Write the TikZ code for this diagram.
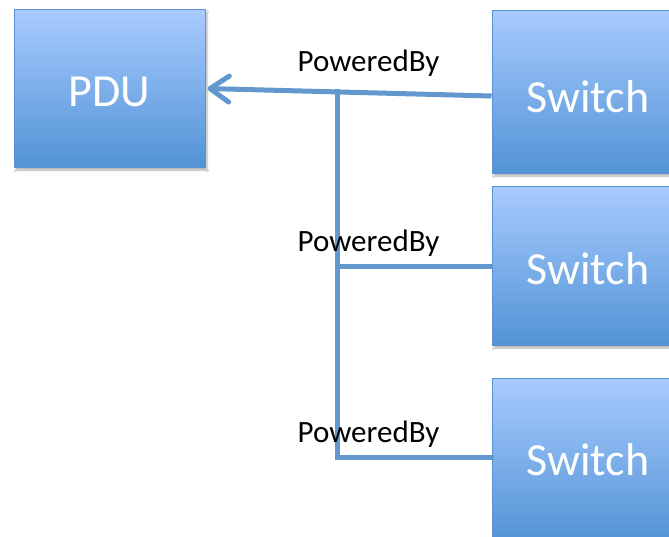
\documentclass[tikz,border=0pt]{standalone}
\usepackage{fontspec}
\setmainfont{Carlito}
\usetikzlibrary{arrows.meta,shadows.blur}
\definecolor{boxtop}{RGB}{168,203,255}
\definecolor{boxbot}{RGB}{82,147,213}
\definecolor{boxline}{RGB}{92,145,210}
\definecolor{linkblue}{RGB}{99,152,206}
\tikzset{
  unitbox/.style={rectangle, draw=boxline, line width=1pt,
    top color=boxtop, bottom color=boxbot, minimum width=192pt,
    text=white, font=\fontsize{46}{50}\selectfont, text depth=0pt,
    blur shadow={shadow xshift=2pt, shadow yshift=-3pt, shadow blur steps=5, shadow opacity=30}},
  link/.style={draw=linkblue, line width=5pt},
  linklabel/.style={font=\fontsize{31}{34}\selectfont, text=black, inner sep=0pt}
}
\begin{document}
\begin{tikzpicture}[x=1pt,y=-1pt]
\useasboundingbox (0,0) rectangle (669,536);
\clip (0,0) rectangle (669,536);
\fill[white] (0,0) rectangle (669,536);

\node[unitbox, minimum width=191pt, minimum height=158pt, text height=37pt] (pdu) at (109.5,88) {PDU};
\node[unitbox, minimum height=163pt, text height=42pt] (sw1) at (588,91.5) {Switch};
\node[unitbox, minimum height=159pt, text height=38pt] (sw2) at (588,265.5) {Switch};
\node[unitbox, minimum height=164pt, text height=31pt] (sw3) at (588,460) {Switch};

% junction points on the shared power bus
\coordinate (j1) at (337,91.5);
\coordinate (j2) at (337,266);
\coordinate (j3) at (337,457);

\draw[link, -{Straight Barb[length=19pt, width=26pt, line width=5pt, round]}]
  ([yshift=-4.5pt]sw1.west) -- ([xshift=2pt]pdu.east |- 0,88.5);
\draw[link, line cap=rect] (j1) -- (j3) -- (sw3.west |- j3);
\draw[link] (j2) -- (sw2.west |- j2);

\node[linklabel, anchor=center] (l1) at (368.5,63) {PoweredBy};
\node[linklabel, anchor=center] (l2) at (368.5,243) {PoweredBy};
\node[linklabel, anchor=center] (l3) at (368.5,434) {PoweredBy};
\end{tikzpicture}
\end{document}
